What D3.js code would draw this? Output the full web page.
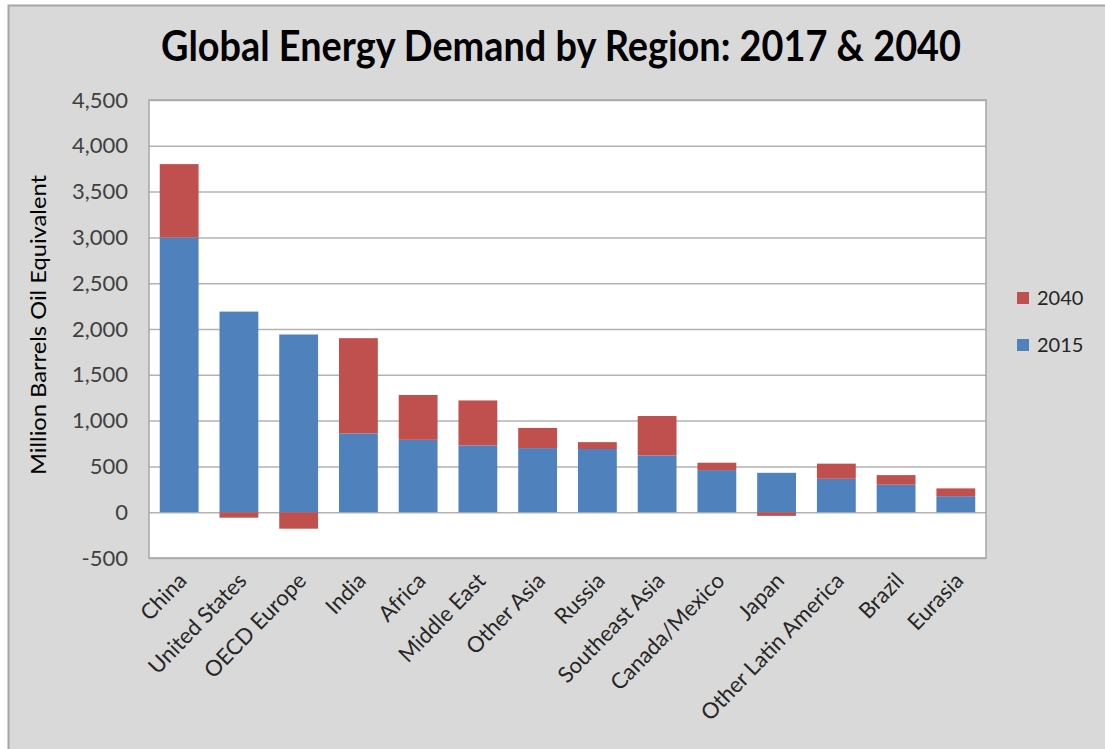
<!DOCTYPE html>
<html>
<head>
<meta charset="utf-8">
<script src="https://cdn.jsdelivr.net/npm/d3@7"></script>
<style>
  html, body { margin: 0; padding: 0; background: #ffffff; }
  svg { display: block; }
</style>
</head>
<body>
<svg id="chart" width="1105" height="749"></svg>
<script>
const categories = ["China", "United States", "OECD Europe", "India", "Africa", "Middle East", "Other Asia", "Russia", "Southeast Asia", "Canada/Mexico", "Japan", "Other Latin America", "Brazil", "Eurasia"];
const values2015 = [3000, 2190, 1940, 860, 790, 730, 700, 690, 620, 460, 430, 365, 300, 175];
const values2040 = [800, -60, -180, 1040, 490, 490, 220, 75, 430, 80, -40, 165, 105, 85];
const yTicks = [-500, 0, 500, 1000, 1500, 2000, 2500, 3000, 3500, 4000, 4500];
const seriesNames = ["2015", "2040"];
const legendOrder = ["2040", "2015"];
const titleText = "Global Energy Demand by Region: 2017 & 2040";
const yAxisTitle = "Million Barrels Oil Equivalent";

const colors = { "2015": "#4f81bd", "2040": "#c0504d" };
const font = "Lato, 'Open Sans', sans-serif";

const svg = d3.select("#chart");

// chart background with border
svg.append("rect").attr("x", 8.5).attr("y", 5.5).attr("width", 1110).attr("height", 760)
  .attr("fill", "#d9d9d9").attr("stroke", "#a6a6a6").attr("stroke-width", 2);

const plot = { left: 149, right: 986, top: 100, bottom: 558 };

const x = d3.scaleBand().domain(categories).range([plot.left, plot.right])
  .paddingInner(0.35).paddingOuter(0.18);
const y = d3.scaleLinear().domain([-500, 4500]).range([plot.bottom, plot.top]);

// plot area
svg.append("rect").attr("x", plot.left).attr("y", plot.top)
  .attr("width", plot.right - plot.left).attr("height", plot.bottom - plot.top)
  .attr("fill", "#ffffff");

// gridlines + y tick labels
const fmt = d3.format(",");
const yAxis = d3.axisLeft(y).tickValues(yTicks).tickSize(-(plot.right - plot.left))
  .tickFormat(d => fmt(d).replace("\u2212", "-"));
const gy = svg.append("g").attr("transform", `translate(${plot.left},0)`).call(yAxis);
gy.select(".domain").remove();
gy.selectAll(".tick line").attr("stroke", "#b3b3b3").attr("stroke-width", 1.5);
gy.selectAll(".tick text").attr("x", -21).attr("fill", "#404040")
  .style("font-family", font).style("font-size", "22px");

// plot border
svg.append("rect").attr("x", plot.left).attr("y", plot.top)
  .attr("width", plot.right - plot.left).attr("height", plot.bottom - plot.top)
  .attr("fill", "none").attr("stroke", "#a6a6a6").attr("stroke-width", 1.5);

// stacked bars
const table = categories.map((c, i) => ({ cat: c, "2015": values2015[i], "2040": values2040[i] }));
const stack = d3.stack().keys(seriesNames).offset(d3.stackOffsetDiverging);
const layers = stack(table);

svg.append("g").selectAll("g").data(layers).join("g")
  .attr("fill", d => colors[d.key])
  .selectAll("rect").data(d => d).join("rect")
  .attr("x", d => x(d.data.cat))
  .attr("width", x.bandwidth())
  .attr("y", d => y(Math.max(d[0], d[1])))
  .attr("height", d => Math.abs(y(d[0]) - y(d[1])));

// x labels
const xAxis = d3.axisBottom(x).tickSize(0);
const gx = svg.append("g").attr("transform", `translate(0,${plot.bottom})`).call(xAxis);
gx.select(".domain").remove();
gx.selectAll(".tick text")
  .attr("fill", "#262626")
  .style("font-family", font).style("font-size", "22px")
  .attr("text-anchor", "end")
  .attr("dy", 0).attr("y", 0)
  .attr("transform", "translate(9,24) rotate(-46)");

// title
svg.append("text").attr("x", 561).attr("y", 61).attr("text-anchor", "middle")
  .attr("textLength", 800).attr("lengthAdjust", "spacingAndGlyphs")
  .style("font-family", font).style("font-size", "42px").style("font-weight", "bold")
  .attr("fill", "#000").text(titleText);

// y axis title
svg.append("text").attr("transform", "translate(46,325) rotate(-90)")
  .attr("text-anchor", "middle").style("font-family", font).style("font-size", "21px")
  .attr("textLength", 300).attr("lengthAdjust", "spacingAndGlyphs")
  .attr("fill", "#000").text(yAxisTitle);

// legend
const lg = svg.append("g").selectAll("g").data(legendOrder).join("g")
  .attr("transform", (d, i) => `translate(1017,${298 + i * 47})`);
lg.append("rect").attr("x", 0).attr("y", -6).attr("width", 12).attr("height", 12)
  .attr("fill", d => colors[d]);
lg.append("text").attr("x", 20).attr("y", 0).attr("dy", "0.36em")
  .style("font-family", font).style("font-size", "20px").attr("fill", "#262626")
  .text(d => d);
</script>
</body>
</html>
